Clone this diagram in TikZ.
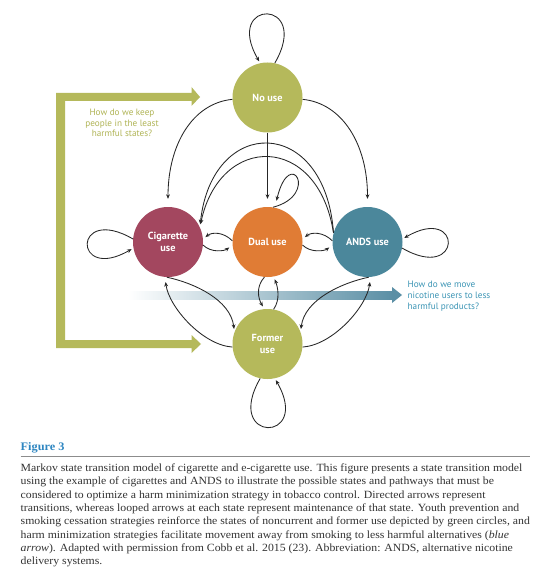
\documentclass[tikz,border=0pt]{standalone}
\usepackage{fontspec}
\setmainfont{Liberation Serif}[FakeStretch=1.07]
\newfontfamily\nodefont{PT Sans}
\usetikzlibrary{arrows.meta}
\definecolor{gr}{HTML}{B5B95B}
\definecolor{grtext}{HTML}{B0B455}
\definecolor{cigc}{HTML}{A3475F}
\definecolor{dualc}{HTML}{E07C35}
\definecolor{andsc}{HTML}{4B879B}
\definecolor{bandc}{HTML}{5B8FA5}
\definecolor{qblue}{HTML}{3C95B5}
\definecolor{figblue}{HTML}{2E86C1}
\definecolor{captc}{HTML}{333333}
\begin{document}
\begin{tikzpicture}[x=1pt,y=1pt,
  state/.style={circle,minimum size=70pt,inner sep=0pt,text=white,
    font=\nodefont\bfseries\fontsize{10.3}{12}\selectfont,align=center},
  arr/.style={draw=black!85,line width=0.85pt,-{Stealth[length=4.5pt,width=3.8pt]},shorten >=2pt},
  capline/.style={anchor=base west,text=captc,font=\fontsize{11}{13}\selectfont,inner sep=0pt},
  question/.style={font=\nodefont\fontsize{9.2}{10.8}\selectfont,inner sep=0pt}
  ]
\useasboundingbox (0,0) rectangle (542,-580);
\fill[white] (0,0) rectangle (542,-580);

% green L-shaped arrow
\fill[gr] (56,-93) -- (191.5,-93) -- (191.5,-87) -- (200,-97) -- (191.5,-106) -- (191.5,-101)
  -- (65,-101) -- (65,-340) -- (191.5,-340) -- (191.5,-335) -- (201,-344) -- (191.5,-353)
  -- (191.5,-348) -- (56,-348) -- cycle;

% blue band arrow
\shade[left color=white,right color=bandc] (128,-291) rectangle (392.5,-299);
\fill[bandc] (392,-287) -- (402,-295) -- (392,-303) -- cycle;

% states
\node[state,fill=gr]    (nouse)  at (267.5,-97.5) {No use};
\node[state,fill=cigc]  (cig)    at (168,-242) {Cigarette\\use};
\node[state,fill=dualc] (dual)   at (267.5,-242) {Dual use};
\node[state,fill=andsc] (ands)   at (367.5,-242) {ANDS use};
\node[state,fill=gr]    (former) at (267.5,-344) {Former\\use};

% loops
\draw[arr] (nouse.78) .. controls +(60:75) and +(120:75) .. (nouse.102);
\draw[arr] (former.-102) .. controls +(-120:75) and +(-60:75) .. (former.-78);
\draw[arr] (cig.175) .. controls +(150:70) and +(210:70) .. (cig.190);
\draw[arr] (ands.-10) .. controls +(-30:70) and +(30:70) .. (ands.5);
\draw[arr,shorten >=7pt] (dual.81) .. controls (320,-195) and (290,-145) .. (dual.78);

% from No use
\draw[arr,shorten >=8pt] (nouse.south) -- (dual.north);
\draw[arr,shorten >=8pt] (nouse.183) .. controls +(-40,-4) and +(0,62) .. (cig.north);
\draw[arr,shorten >=8pt] (nouse.-3) .. controls +(40,-4) and +(0,62) .. (ands.north);

% ANDS -> Cigarette arcs
\draw[arr,shorten >=3pt] (ands.165) .. controls (325,-115) and (212,-115) .. (cig.25);
\draw[arr,shorten >=3pt] (ands.165) .. controls (318,-133) and (220,-133) .. (cig.25);

% horizontal pairs
\draw[arr,shorten >=3pt] (dual.178) .. controls +(-9,9) and +(9,7) .. (cig.5);
\draw[arr,shorten >=4pt] (cig.-5) .. controls +(8,-8) and +(-8,-6) .. (dual.-175);
\draw[arr,shorten >=3pt] (ands.178) .. controls +(-9,9) and +(9,7) .. (dual.5);
\draw[arr,shorten >=4pt] (dual.-5) .. controls +(8,-8) and +(-8,-6) .. (ands.-175);

% with Former use
\draw[arr,shorten >=3pt] (cig.-92) .. controls +(28,-6) and +(-4,32) .. (former.160);
\draw[arr,shorten >=5pt] (former.185) .. controls +(-30,2) and +(4,-30) .. (cig.-95);
\draw[arr,shorten >=3pt] (ands.-88) .. controls +(-28,-6) and +(4,32) .. (former.20);
\draw[arr,shorten >=5pt] (former.-5) .. controls +(30,2) and +(-4,-30) .. (ands.-85);
\draw[arr,shorten >=3pt] (dual.-95) .. controls +(-9,-10) and +(-6,10) .. (former.95);
\draw[arr,shorten >=3pt] (former.80) .. controls +(7,10) and +(4,-10) .. (dual.-80);

% questions
\node[question,text=grtext,align=center] (q1) at (122,-123) {How do we keep\\people in the least\\harmful states?};
\node[question,text=qblue,align=left,anchor=west] (q2) at (407.5,-296) {How do we move\\nicotine users to less\\harmful products?};

% caption
\node[anchor=base west,inner sep=0pt,text=figblue,font=\bfseries\fontsize{11.5}{13}\selectfont] (fig) at (20.5,-450) {Figure 3};
\draw[black!45,line width=1.6pt] (20.5,-456.5) -- (530,-456.5);
\node[capline] (c1) at (20.5,-471.5) {Markov state transition model of cigarette and e-cigarette use. This figure presents a state transition model};
\node[capline] (c2) at (20.5,-484.8) {using the example of cigarettes and ANDS to illustrate the possible states and pathways that must be};
\node[capline] (c3) at (20.5,-498.1) {considered to optimize a harm minimization strategy in tobacco control. Directed arrows represent};
\node[capline] (c4) at (20.5,-511.4) {transitions, whereas looped arrows at each state represent maintenance of that state. Youth prevention and};
\node[capline] (c5) at (20.5,-524.7) {smoking cessation strategies reinforce the states of noncurrent and former use depicted by green circles, and};
\node[capline] (c6) at (20.5,-538.0) {harm minimization strategies facilitate movement away from smoking to less harmful alternatives (\textit{blue}};
\node[capline] (c7) at (20.5,-551.3) {\textit{arrow}). Adapted with permission from Cobb et al. 2015 (23). Abbreviation: ANDS, alternative nicotine};
\node[capline] (c8) at (20.5,-564.6) {delivery systems.};
\end{tikzpicture}
\end{document}
